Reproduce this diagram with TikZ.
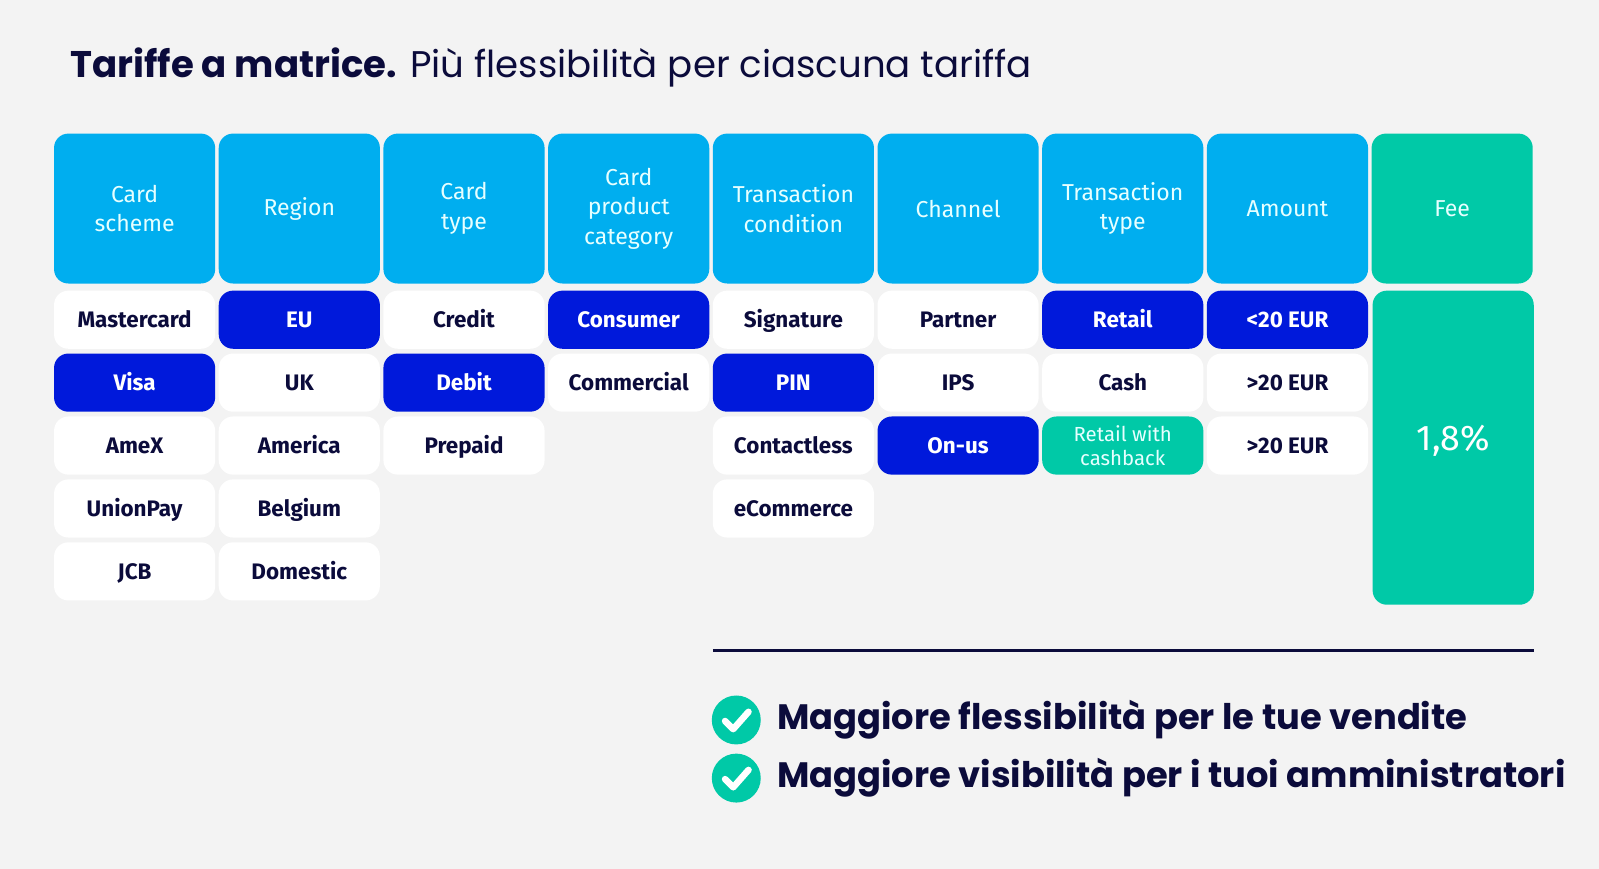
\documentclass[tikz,border=0pt]{standalone}
\usepackage{fontspec}
\setmainfont{Fira Sans}
\newfontfamily\pop{Poppins}
\definecolor{bg}{HTML}{F3F3F3}
\definecolor{hdr}{HTML}{00AEEF}
\definecolor{hl}{HTML}{0019DB}
\definecolor{grn}{HTML}{00C9A7}
\definecolor{navy}{HTML}{0B0B3B}
\definecolor{htxt}{HTML}{E6FFFF}
\begin{document}
\begin{tikzpicture}[x=0.5pt,y=-0.5pt,
  cellbase/.style={rounded corners=7pt,minimum width=79pt,minimum height=28.5pt,inner sep=0pt,align=center,font=\fontsize{11}{12}\selectfont},
  hbox/.style={cellbase,fill=hdr,text=htxt,minimum height=73.5pt,font=\fontsize{11.3}{14.5}\selectfont},
  wbox/.style={cellbase,fill=white,text=navy,text height=10pt,text depth=2.5pt,font=\fontsize{11}{12}\selectfont\bfseries},
  bbox/.style={wbox,fill=hl,text=white},
  gbox/.style={cellbase,fill=grn,text=htxt,font=\fontsize{10}{12}\selectfont},
  chk/.style={circle,fill=grn,minimum size=24pt,inner sep=0pt}]
\fill[bg] (0,0) rectangle (1568,852);
\useasboundingbox (0,0) rectangle (1568,852);
\node[anchor=west,text=navy,font=\pop\fontsize{18.2}{22}\selectfont] (title) at (62,66) {\textbf{Tariffe a matrice.} Più flessibilità per ciascuna tariffa};
% headers
\foreach \i/\t in {0/{Card\\scheme},1/Region,2/{Card\\type},3/{Card\\product\\category},4/{Transaction\\condition},5/Channel,6/{Transaction\\type},7/Amount}{
  \node[hbox] (h\i) at (132+161.5*\i,204.5) {\t};
}
\node[hbox,fill=grn] (h8) at (132+161.5*8,204.5) {Fee};
% cells: column, row, style, text
\foreach \c/\r/\s/\t in {
 0/0/wbox/Mastercard,0/1/bbox/Visa,0/2/wbox/AmeX,0/3/wbox/UnionPay,0/4/wbox/JCB,
 1/0/bbox/EU,1/1/wbox/UK,1/2/wbox/America,1/3/wbox/Belgium,1/4/wbox/Domestic,
 2/0/wbox/Credit,2/1/bbox/Debit,2/2/wbox/Prepaid,
 3/0/bbox/Consumer,3/1/wbox/Commercial,
 4/0/wbox/Signature,4/1/bbox/PIN,4/2/wbox/Contactless,4/3/wbox/eCommerce,
 5/0/wbox/Partner,5/1/wbox/IPS,5/2/bbox/On-us,
 6/0/bbox/Retail,6/1/wbox/Cash,6/2/gbox/{Retail with\\cashback},
 7/0/bbox/{<20 EUR},7/1/wbox/{>20 EUR},7/2/wbox/{>20 EUR}}{
  \node[\s] (c\c-\r) at (132+161.5*\c,313.5+61.7*\r) {\t};
}
\node[cellbase,fill=grn,minimum height=154pt] (fee) at (1425,439) {};
\node[text=white,font=\fontsize{17.5}{20}\selectfont] (feev) at (1425,432) {1,8\%};
\coordinate (l1) at (699,638);
\coordinate (l2) at (1504,638);
\draw[navy,line width=1.5pt] (l1) -- (l2);
\foreach \k/\y/\t in {1/706/{Maggiore flessibilità per le tue vendite},2/763/{Maggiore visibilità per i tuoi amministratori}}{
  \node[chk] (k\k) at (722,\y) {};
  \draw[white,line width=3.2pt,line cap=round,line join=round] ([shift={(-11,1)}]k\k.center) -- ([shift={(-3,9)}]k\k.center) -- ([shift={(12,-8)}]k\k.center);
  \node[anchor=west,text=navy,font=\pop\fontsize{17.3}{20}\selectfont\bfseries] (t\k) at (755,\y) {\t};
}
\end{tikzpicture}
\end{document}
